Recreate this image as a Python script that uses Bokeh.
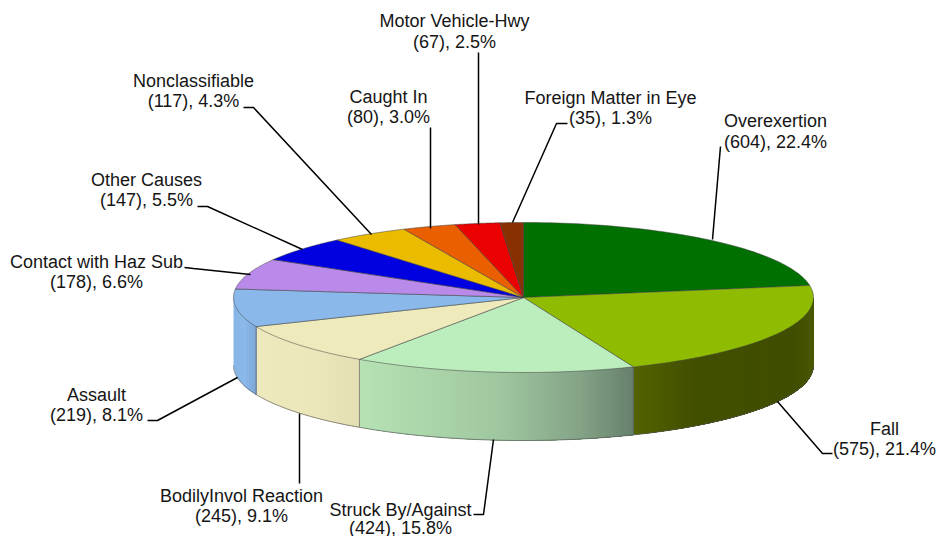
import numpy as np
from bokeh.plotting import figure
from bokeh.models import Range1d
from bokeh.core.properties import value
from bokeh.embed import file_html
from bokeh.resources import INLINE

# ---- data ----
categories = ["Overexertion", "Fall", "Struck By/Against", "BodilyInvol Reaction", "Assault",
              "Contact with Haz Sub", "Other Causes", "Nonclassifiable", "Caught In",
              "Motor Vehicle-Hwy", "Foreign Matter in Eye"]
counts = [604, 575, 424, 245, 219, 178, 147, 117, 80, 67, 35]
percents = ["22.4%", "21.4%", "15.8%", "9.1%", "8.1%", "6.6%", "5.5%", "4.3%", "3.0%", "2.5%", "1.3%"]

# ---- styles ----
top_colors = ["#007000", "#8FBC00", "#BCEDBD", "#EEEABB", "#8AB8EA", "#B98AEA",
              "#0000E0", "#EBBB00", "#EA5F00", "#EA0000", "#883000"]
side_stops = {
    1: [(0.0, "#536300"), (0.35, "#414F00"), (0.9, "#3F4E00"), (1.0, "#4A5800")],
    2: [(0.0, "#B6E2B4"), (0.5, "#A0C8A0"), (0.8, "#85A488"), (1.0, "#66806C")],
    3: [(0.0, "#EDE9BC"), (0.6, "#EBE7BA"), (1.0, "#E3DEB3")],
    4: [(0.0, "#86B4E4"), (0.5, "#8AB8EA"), (1.0, "#7DA8D6")],
}

# ---- layout (screen pixels) ----
CX, CY, RX, RY, DEPTH = 523.0, 297.0, 290.0, 75.0, 68.0
FONT = value("Liberation Sans")
FONT_SIZE = "18px"
label_pos = {
    "Overexertion": (775, 120, 141),
    "Fall": (884, 428, 448),
    "Struck By/Against": (400, 509, 527),
    "BodilyInvol Reaction": (241, 495, 515),
    "Assault": (96, 394, 414),
    "Contact with Haz Sub": (96, 261, 281),
    "Other Causes": (146, 179, 199),
    "Nonclassifiable": (193, 80, 100),
    "Caught In": (388, 96, 116),
    "Motor Vehicle-Hwy": (454, 20, 41),
    "Foreign Matter in Eye": (610, 97, 117),
}
leaders = {
    "Overexertion": [(720, 146), (712, 239)],
    "Fall": [(777, 401), (822, 453), (832, 453)],
    "Struck By/Against": [(493, 439), (483, 514), (473, 514)],
    "BodilyInvol Reaction": [(299, 413), (299, 483)],
    "Assault": [(237, 377), (157, 420), (147, 420)],
    "Contact with Haz Sub": [(250, 274), (193, 268), (184, 267)],
    "Other Causes": [(302, 249), (207, 206), (197, 206)],
    "Nonclassifiable": [(371, 234), (253, 107), (243, 107)],
    "Caught In": [(430, 228), (430, 127)],
    "Motor Vehicle-Hwy": [(478, 224), (478, 52)],
    "Foreign Matter in Eye": [(512, 222), (556, 123), (567, 123)],
}


def ex(a):
    return CX + RX * np.sin(a)


def ey(a):
    return CY - RY * np.cos(a)


def hex2rgb(h):
    return np.array([int(h[i:i + 2], 16) for i in (1, 3, 5)], dtype=float)


def ramp(stops, t):
    ts = [s[0] for s in stops]
    cs = [hex2rgb(s[1]) for s in stops]
    rgb = [np.interp(t, ts, [c[i] for c in cs]) for i in range(3)]
    return "#%02X%02X%02X" % tuple(int(round(v)) for v in rgb)


fractions = np.cumsum([0] + counts) / sum(counts)
angles = fractions * 2 * np.pi

p = figure(width=938, height=536, x_range=Range1d(0, 938), y_range=Range1d(536, 0),
           output_backend="svg", toolbar_location=None, min_border=0,
           outline_line_color=None, background_fill_color="white", border_fill_color="white")
p.xaxis.visible = False
p.yaxis.visible = False
p.grid.visible = False

# side wall: strips painted left to right, each reaching to the wall's right end
for i, stops in side_stops.items():
    a0 = max(angles[i], np.pi / 2)
    a1 = min(angles[i + 1], 3 * np.pi / 2)
    x_right, x_left = ex(a0), ex(a1)
    n = max(2, int((x_right - x_left) / 3))
    edges = np.linspace(x_left, x_right, n + 1)
    edge_angles = np.pi - np.arcsin(np.clip((edges - CX) / RX, -1, 1))
    xs, ys, cols = [], [], []
    for k in range(n):
        aa = np.linspace(edge_angles[k], edge_angles[-1], max(3, (n - k) // 2 + 2))
        xs.append(list(ex(aa)) + list(ex(aa[::-1])))
        ys.append(list(ey(aa)) + list(ey(aa[::-1]) + DEPTH))
        cols.append(ramp(stops, (k + 0.5) / n))
    p.patches(xs, ys, fill_color=cols, line_color=None)
    # outline of that wall
    aa = np.linspace(a1, a0, 80)
    p.line(list(ex(aa)), list(ey(aa) + DEPTH), line_color="#555555", line_width=0.9, line_alpha=0.75)
    for a in (a0, a1):
        if np.pi / 2 < a < 3 * np.pi / 2:
            p.line([ex(a), ex(a)], [ey(a), ey(a) + DEPTH], line_color="#555555", line_width=0.9, line_alpha=0.7)

# top face
for i in range(len(counts)):
    aa = np.linspace(angles[i], angles[i + 1], 60)
    p.patch([CX] + list(ex(aa)), [CY] + list(ey(aa)), fill_color=top_colors[i],
            line_color="#404040", line_width=0.8, line_alpha=0.65)

# leader lines
for cat in categories:
    pts = leaders[cat]
    p.line([q[0] for q in pts], [q[1] for q in pts], line_color="black", line_width=1.5)

# labels
for cat, n, pct in zip(categories, counts, percents):
    x, y1, y2 = label_pos[cat]
    p.text([x, x], [y1, y2], text=[cat, f"({n}), {pct}"], text_font=FONT, text_font_size=FONT_SIZE,
           text_align="center", text_baseline="middle", text_color="#151515")

open("out.html", "w").write(file_html(p, INLINE))
